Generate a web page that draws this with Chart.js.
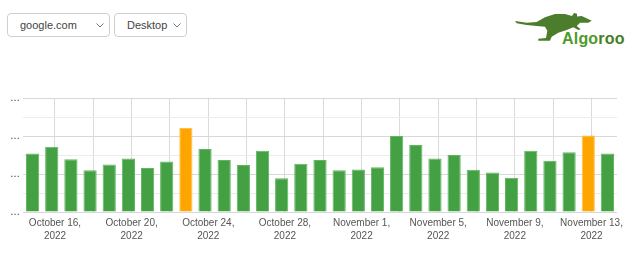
<!DOCTYPE html>
<html>
<head>
<meta charset="utf-8">
<script src="https://cdn.jsdelivr.net/npm/chart.js@4/dist/chart.umd.min.js"></script>
<style>
  html, body { margin: 0; padding: 0; background: #fff; width: 640px; height: 255px; overflow: hidden; font-family: "Liberation Sans", Arial, sans-serif; }
  #chart { position: absolute; left: 0; top: 0; }
  .sel { position: absolute; top: 13px; height: 22px; border: 1px solid #cfcfcf; border-radius: 4px; background: #fff;
         font-size: 11px; color: #444; line-height: 22px; padding-left: 12px; box-sizing: content-box; }
  .sel svg { position: absolute; right: 5px; top: 9px; }
  #logo { position: absolute; left: 515px; top: 13px; }
  #logoText { position: absolute; left: 562px; top: 30px; font-weight: bold; font-size: 16px; letter-spacing: 0.2px; }
</style>
</head>
<body>
<div class="sel" style="left:7px;width:89px">google.com<svg width="8" height="5"><path d="M0.5 0.5 L4 4 L7.5 0.5" fill="none" stroke="#777" stroke-width="1"/></svg></div>
<div class="sel" style="left:114px;width:59px">Desktop<svg width="8" height="5"><path d="M0.5 0.5 L4 4 L7.5 0.5" fill="none" stroke="#777" stroke-width="1"/></svg></div>
<svg id="logo" width="80" height="29" viewBox="0 0 80 29">
  <path fill="#4c7d2c" d="M0 8 L11.7 9.7 L21.7 9 L30 4.3 L40 1 L50 1 L57 3 L59 0 L62 0.8 L62 3.5 L66.7 3 L76.7 7.7 L73.3 9.7 L65 9.7 L61.7 13 L65.7 16.3 L63.3 17 L58.3 14.3 L51.7 17 L43.3 19.7 L36.7 23.7 L35 27.7 L23.3 27.7 L23.3 25.7 L31 25 L32.3 17.7 L30 13.7 L21.7 13 L11.7 12 L1.7 10.3 Z"/>
</svg>
<div id="logoText"><span style="color:#4d9a2c">Algo</span><span style="color:#437f25">roo</span></div>
<canvas id="chart" width="640" height="255"></canvas>
<script>
// one bar per day, Oct 15 .. Nov 14 2022
const DAYS = [
  "2022-10-15","2022-10-16","2022-10-17","2022-10-18","2022-10-19","2022-10-20","2022-10-21","2022-10-22",
  "2022-10-23","2022-10-24","2022-10-25","2022-10-26","2022-10-27","2022-10-28","2022-10-29","2022-10-30",
  "2022-10-31","2022-11-01","2022-11-02","2022-11-03","2022-11-04","2022-11-05","2022-11-06","2022-11-07",
  "2022-11-08","2022-11-09","2022-11-10","2022-11-11","2022-11-12","2022-11-13","2022-11-14"
];
const VALUES = [
  1.54, 1.72, 1.39, 1.10, 1.25, 1.41, 1.16, 1.33,
  2.21, 1.66, 1.37, 1.24, 1.61, 0.89, 1.27, 1.37,
  1.10, 1.12, 1.18, 2.00, 1.76, 1.41, 1.50, 1.11,
  1.04, 0.90, 1.61, 1.35, 1.57, 2.01, 1.54
];
const HIGHLIGHT_DAYS = ["2022-10-23", "2022-11-13"];
// x gridlines every 2 days, labels every 4
const TICK_DAYS = [
  "2022-10-16","2022-10-18","2022-10-20","2022-10-22","2022-10-24","2022-10-26","2022-10-28","2022-10-30",
  "2022-11-01","2022-11-03","2022-11-05","2022-11-07","2022-11-09","2022-11-11","2022-11-13"
];
const TICK_LABELS = [
  ["October 16,", "2022"], "", ["October 20,", "2022"], "", ["October 24,", "2022"], "", ["October 28,", "2022"], "",
  ["November 1,", "2022"], "", ["November 5,", "2022"], "", ["November 9,", "2022"], "", ["November 13,", "2022"]
];
const Y_MAX = 3;
const Y_STEP = 0.5;

const GREEN = "#43a043";
const ORANGE = "#ffa500";
const TICK_SHIFT = 0.17; // day boundary sits a few hours after the bar centre

Chart.defaults.font.family = '"Liberation Sans", Arial, sans-serif';

const points = DAYS.map((d, i) => ({ x: i, y: VALUES[i] }));
const tickPos = TICK_DAYS.map(d => DAYS.indexOf(d) + TICK_SHIFT);

new Chart(document.getElementById("chart"), {
  type: "bar",
  data: {
    datasets: [{
      data: points,
      backgroundColor: DAYS.map(d => HIGHLIGHT_DAYS.includes(d) ? ORANGE : GREEN),
      borderColor: DAYS.map(d => HIGHLIGHT_DAYS.includes(d) ? "#ffc04a" : "#62b562"),
      borderWidth: 1,
      barPercentage: 0.69,
      categoryPercentage: 1
    }]
  },
  options: {
    responsive: false,
    animation: false,
    layout: { padding: { left: 0, right: 23, top: 98, bottom: 0 } },
    plugins: { legend: { display: false }, tooltip: { enabled: false } },
    scales: {
      x: {
        type: "linear",
        offset: false,
        min: -0.5,
        max: DAYS.length - 0.5,
        afterBuildTicks: s => { s.ticks = tickPos.map(v => ({ value: v })); },
        afterFit: s => { s.height = 43; },
        ticks: {
          autoSkip: false, maxRotation: 0, padding: 4,
          color: "#555", font: { size: 10, lineHeight: 1.35 },
          callback: (v, i) => TICK_LABELS[i]
        },
        grid: { color: "#dadada", drawTicks: false, offset: false },
        border: { display: false }
      },
      y: {
        min: 0, max: Y_MAX,
        afterFit: s => { s.width = 23; },
        ticks: {
          stepSize: Y_STEP, padding: 3, color: "#333", font: { size: 10 },
          callback: v => (v % 1 === 0 ? "…" : "")
        },
        grid: {
          drawTicks: false,
          color: c => (c.tick && c.tick.value % 1 === 0 ? "#d8d8d8" : "#ececec")
        },
        border: { display: false }
      }
    }
  }
});
</script>
</body>
</html>
